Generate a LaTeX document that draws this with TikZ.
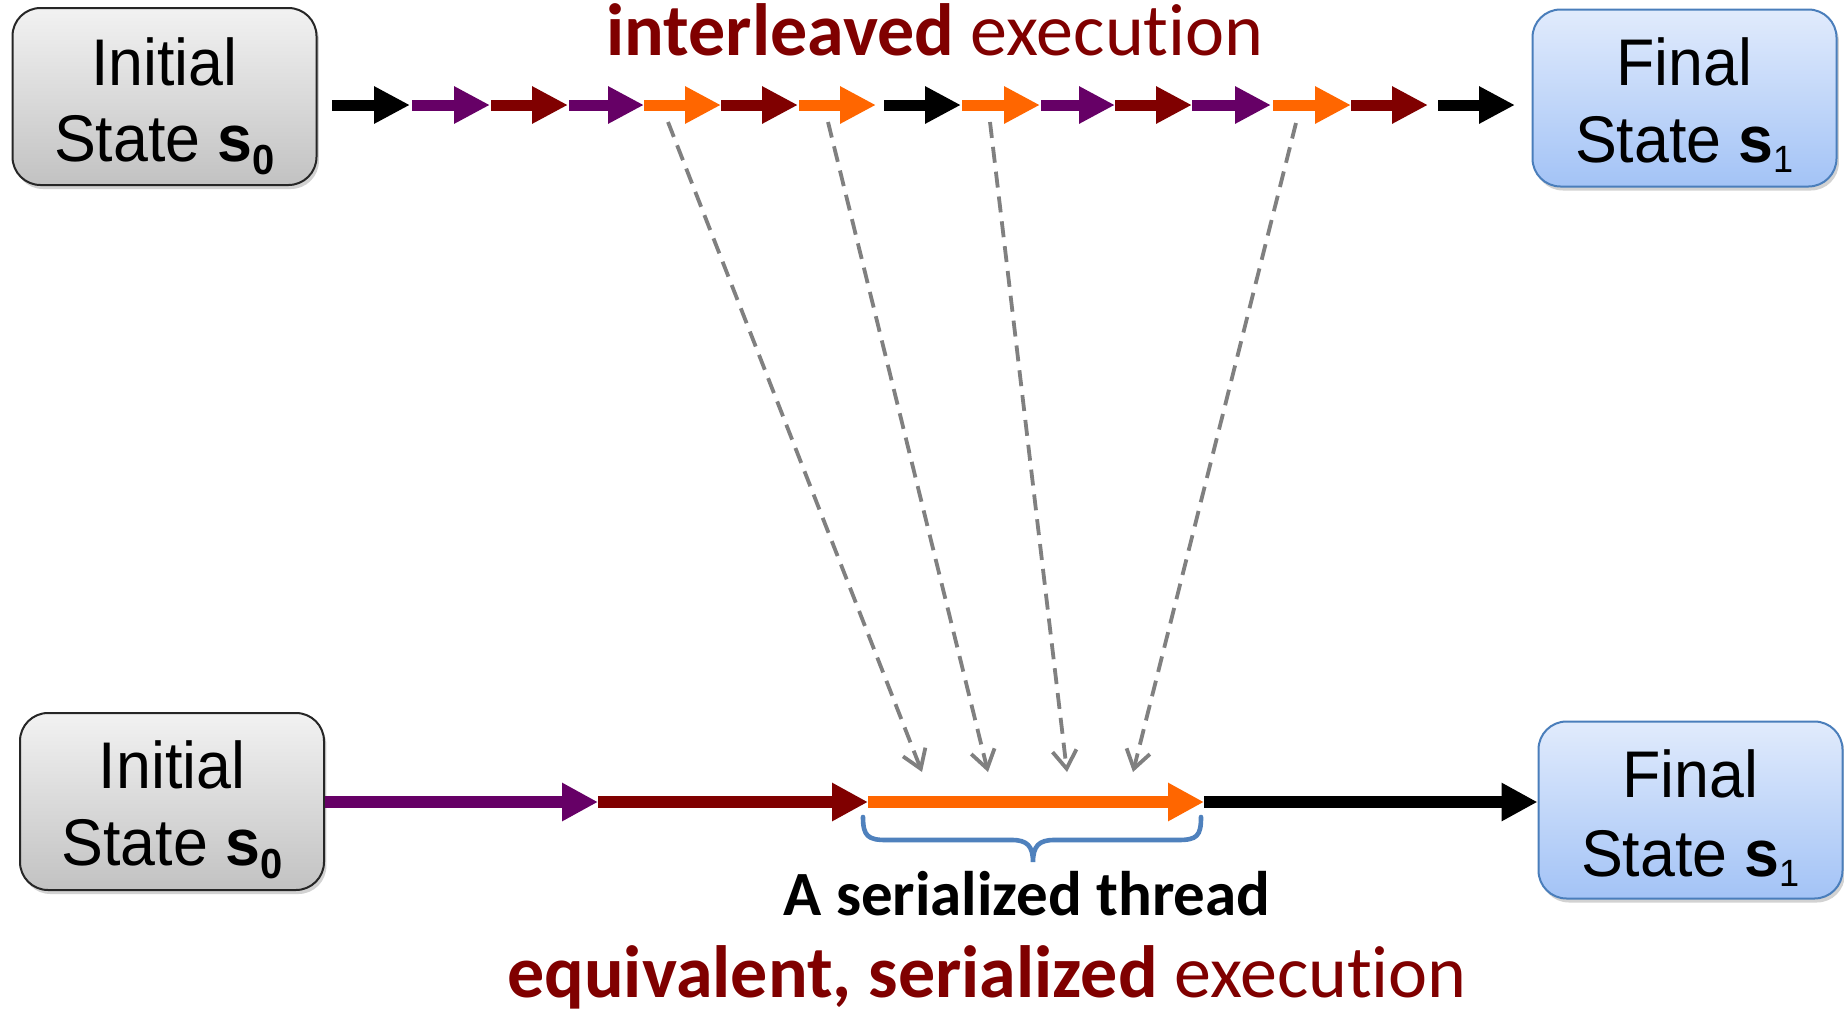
\documentclass[tikz,border=0pt]{standalone}
\usepackage{fontspec}
\setmainfont[FakeStretch=0.95]{Liberation Sans}
\newfontfamily\calib[Ligatures={NoCommon},RawFeature={-liga;-clig;-dlig;-calt}]{Carlito}
\usetikzlibrary{arrows.meta,shadows,calc}
\definecolor{dred}{HTML}{800000}
\definecolor{purp}{HTML}{660066}
\definecolor{orng}{HTML}{FF6600}
\definecolor{dgray}{HTML}{808080}
\definecolor{bbord}{HTML}{4A7EBB}
\definecolor{brc}{HTML}{4F81BD}
\definecolor{gtop}{HTML}{F2F2F2}
\definecolor{gbot}{HTML}{C2C2C2}
\definecolor{btop}{HTML}{E1EBFC}
\definecolor{bbot}{HTML}{A3C3F6}
\newcommand\subz{\raisebox{-6.5pt}{\fontsize{21pt}{21pt}\selectfont\bfseries 0}}
\newcommand\subo{\raisebox{-5pt}{\fontsize{19pt}{19pt}\selectfont 1}}
\begin{document}
\begin{tikzpicture}[x=0.5pt,y=-0.5pt,
  box/.style={rounded corners=14pt, line width=1pt, minimum width=152pt,
    minimum height=88.5pt, inner sep=0pt,
    drop shadow={shadow xshift=1.2pt,shadow yshift=-2pt,opacity=0.35}},
  graybox/.style={box, draw=black!85, top color=gtop, bottom color=gbot},
  bluebox/.style={box, draw=bbord, top color=btop, bottom color=bbot},
  btxt/.style={font=\fontsize{33pt}{38pt}\selectfont, anchor=base, inner sep=0pt},
  seg/.style={line width=5.5pt, -{Triangle[length=18pt,width=17.5pt]}},
  lseg/.style={line width=6pt, -{Triangle[length=18pt,width=18pt]}},
  dsh/.style={draw=dgray, line width=1.9pt, dash pattern=on 8pt off 4.5pt,
    -{Straight Barb[length=9pt,width=12pt,line width=1.9pt]}},
  ttl/.style={font=\calib\fontsize{37pt}{40pt}\selectfont, text=dred, anchor=base, inner sep=0pt}
]
\useasboundingbox (0,0) rectangle (1844,1013);
\fill[white] (0,0) rectangle (1844,1013);

% boxes
\node[graybox] (i1) at (164.5,96.5) {};
\node[bluebox] (f1) at (1684.5,98) {};
\node[graybox] (i2) at (172,801.5) {};
\node[bluebox] (f2) at (1690.5,810) {};

\node[btxt] (i1a) at (164.5,85) {Initial};
\node[btxt] (i1b) at (164.5,161) {State \textbf{s}\subz};
\node[btxt] (f1a) at (1684.5,85) {Final};
\node[btxt] (f1b) at (1684.5,162) {State \textbf{s}\subo};
\node[btxt] (i2a) at (172,788) {Initial};
\node[btxt] (i2b) at (172,865) {State \textbf{s}\subz};
\node[btxt] (f2a) at (1690.5,797) {Final};
\node[btxt] (f2b) at (1690.5,876) {State \textbf{s}\subo};

% top row coordinates
\foreach \n/\x in {0/332,1/410,2/412,3/490,4/491,5/568,6/569,7/644,8/721,9/798,10/799,11/876,12/884,13/961,14/962,15/1040,16/1041,17/1115,18/1192,19/1271,20/1273,21/1351,22/1428,23/1438,24/1515}
  \coordinate (t\n) at (\x,105);
\draw[seg,black] (t0) -- (t1);
\draw[seg,purp] (t2) -- (t3);
\draw[seg,dred] (t4) -- (t5);
\draw[seg,purp] (t6) -- (t7);
\draw[seg,orng] (t7) -- (t8);
\draw[seg,dred] (t8) -- (t9);
\draw[seg,orng] (t10) -- (t11);
\draw[seg,black] (t12) -- (t13);
\draw[seg,orng] (t14) -- (t15);
\draw[seg,purp] (t16) -- (t17);
\draw[seg,dred] (t17) -- (t18);
\draw[seg,purp] (t18) -- (t19);
\draw[seg,orng] (t20) -- (t21);
\draw[seg,dred] (t21) -- (t22);
\draw[seg,black] (t23) -- (t24);

% bottom row
\coordinate (b1) at (598,802);
\coordinate (b2) at (868,802);
\coordinate (b3) at (1204,802);
\draw[lseg,purp] (i2.east |- b1) -- (b1);
\draw[lseg,dred] (b1) -- (b2);
\draw[lseg,orng] (b2) -- (b3);
\draw[lseg,black] (b3) -- (f2.west |- b3);

% dashed mapping lines
\coordinate (d1s) at (668,122); \coordinate (d1e) at (922,772);
\coordinate (d2s) at (828,122); \coordinate (d2e) at (988,772);
\coordinate (d3s) at (990,122); \coordinate (d3e) at (1067,772);
\coordinate (d4s) at (1296,123); \coordinate (d4e) at (1133,772);
\draw[dsh] (d1s) -- (d1e);
\draw[dsh] (d2s) -- (d2e);
\draw[dsh] (d3s) -- (d3e);
\draw[dsh] (d4s) -- (d4e);

% brace
\draw[brc, line width=2.3pt, line cap=round]
  (863,817) .. controls (863,836) and (868,840) .. (886,840) -- (1012,840)
  .. controls (1027,840) and (1033,846) .. (1033,862)
  .. controls (1033,846) and (1039,840) .. (1054,840) -- (1178,840)
  .. controls (1197,840) and (1201,836) .. (1201,817);

% texts
\node[ttl] (title) at (935,55) {\textbf{interleaved} execution};
\node[font=\calib\bfseries\fontsize{31.5pt}{35pt}\selectfont, anchor=base, inner sep=0pt] (thr) at (1027,915) {A serialized thread};
\node[ttl] (eqv) at (987,997) {\textbf{equivalent, serialized} execution};
\end{tikzpicture}
\end{document}
